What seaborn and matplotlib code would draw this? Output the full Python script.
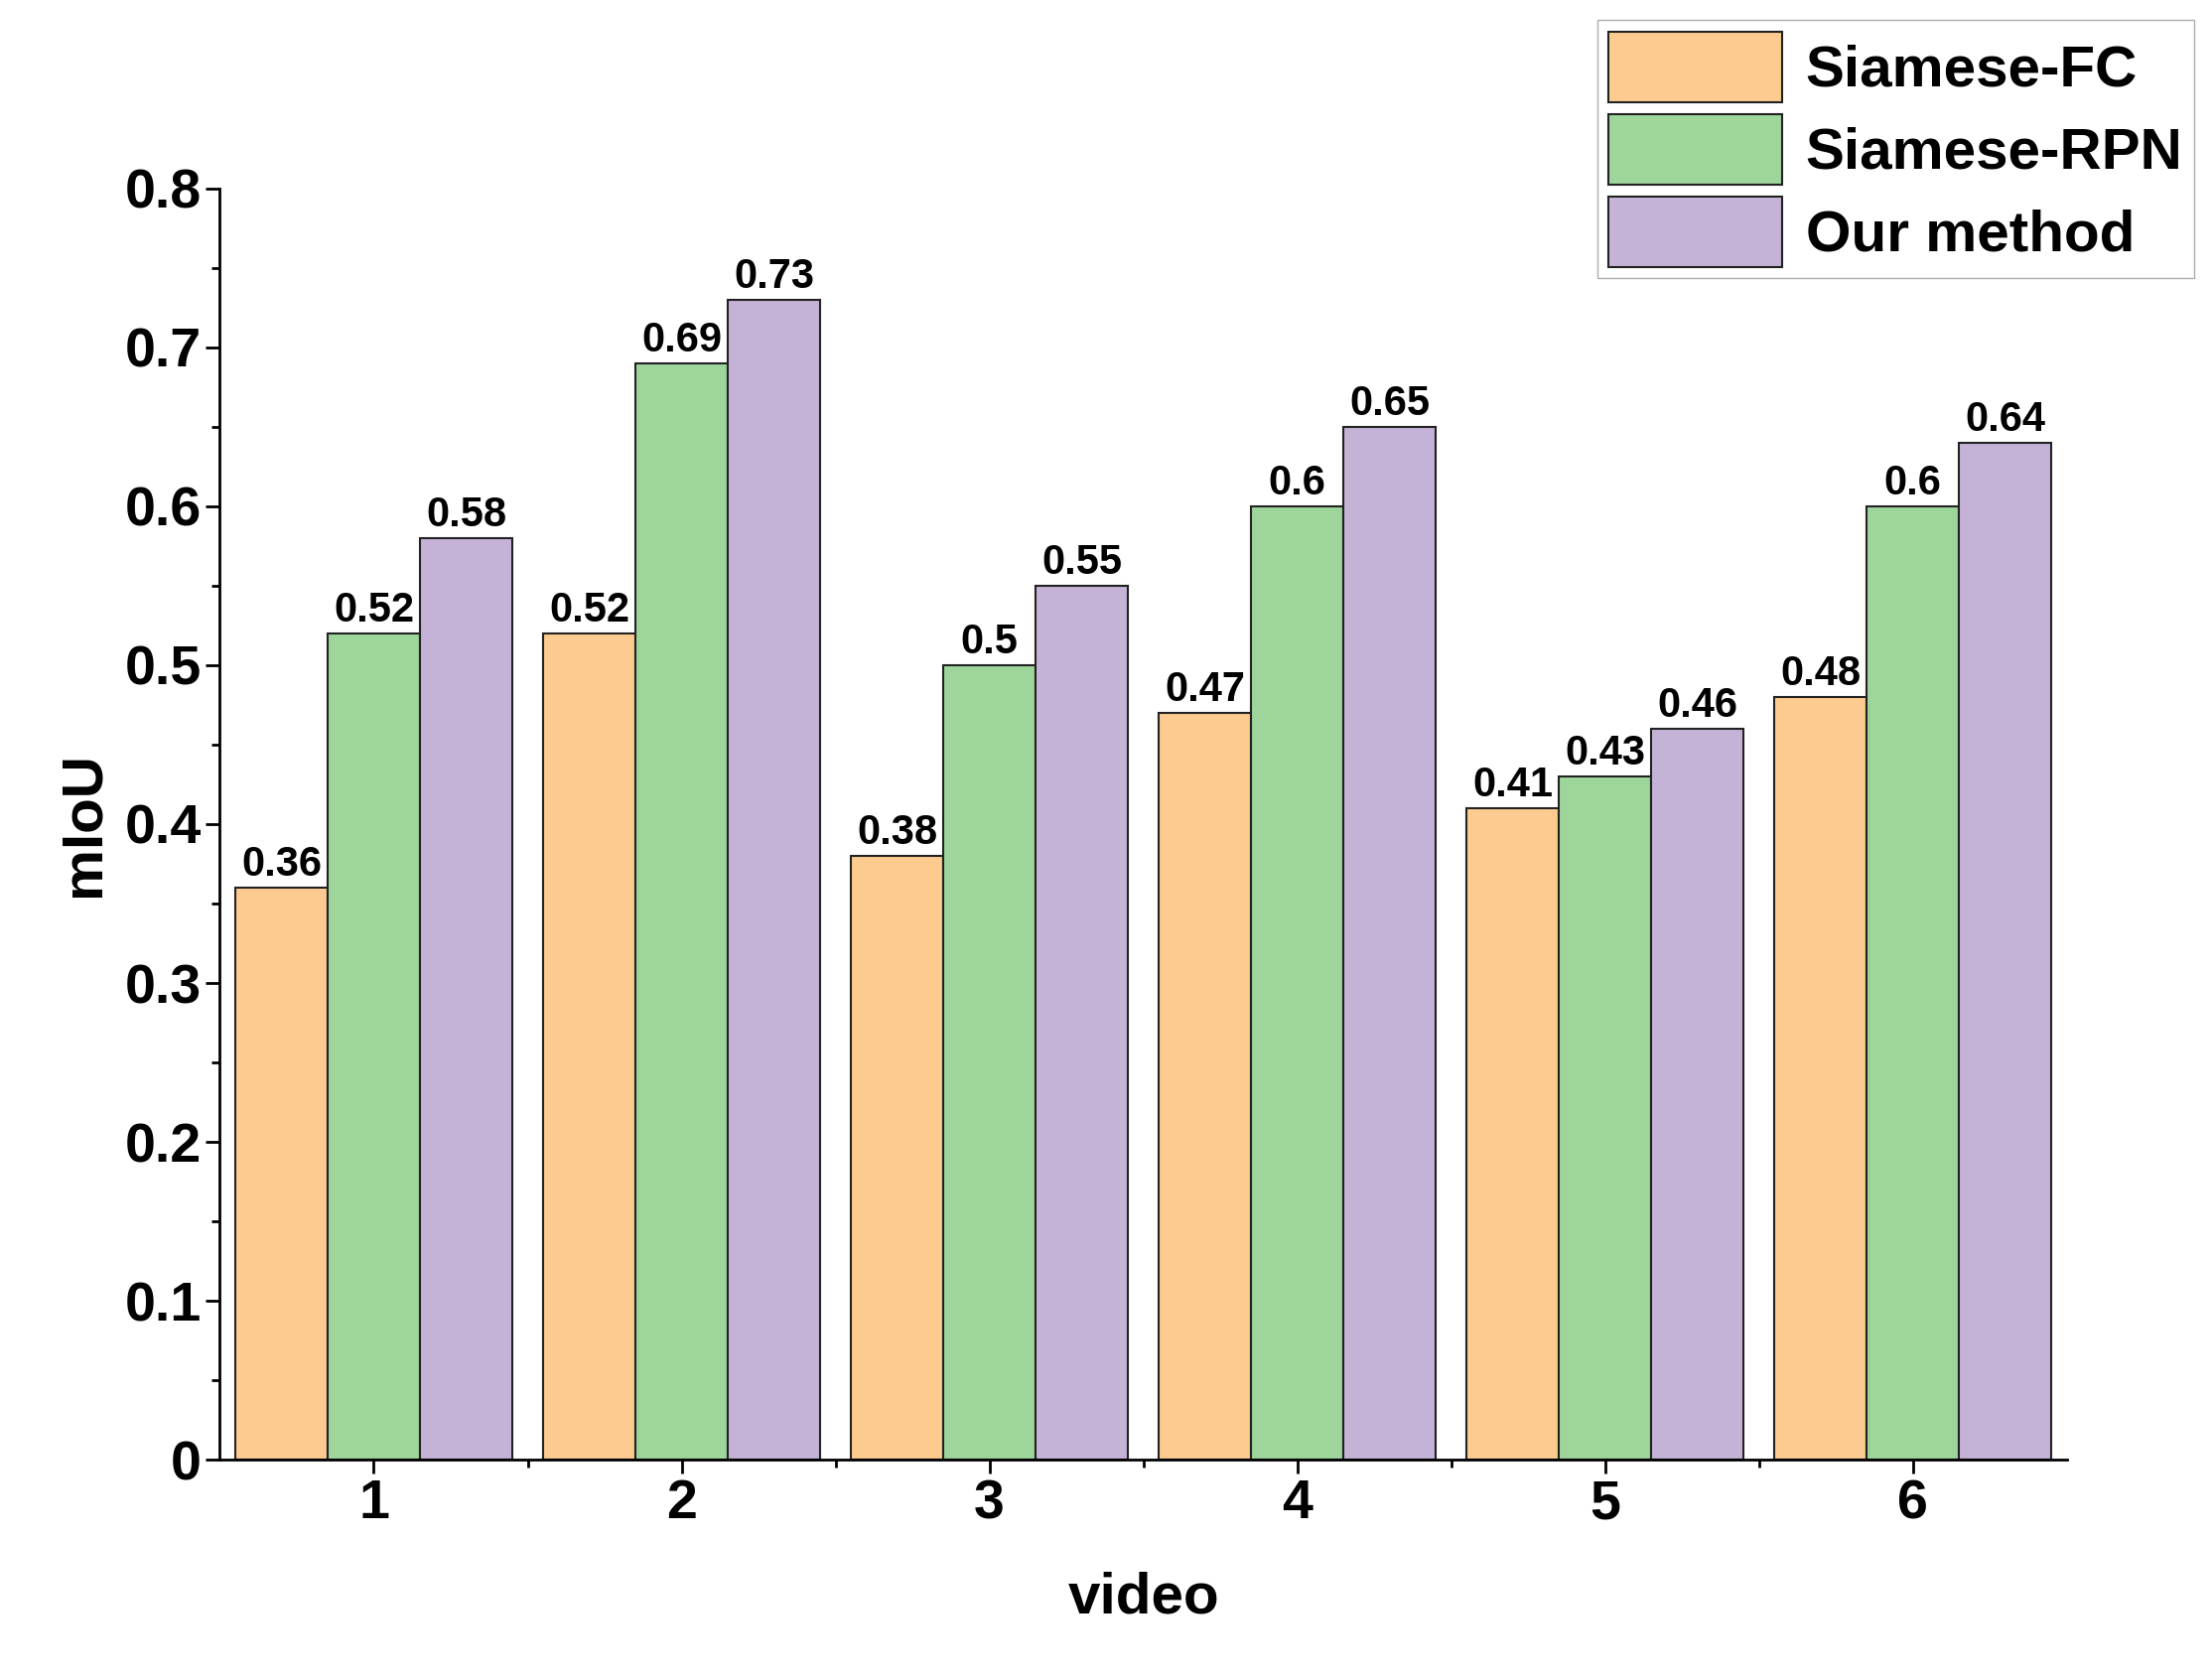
import pandas as pd
import matplotlib.pyplot as plt
import seaborn as sns
from matplotlib.ticker import MultipleLocator

videos = ["1", "2", "3", "4", "5", "6"]
methods = ["Siamese-FC", "Siamese-RPN", "Our method"]
siamese_fc = [0.36, 0.52, 0.38, 0.47, 0.41, 0.48]
siamese_rpn = [0.52, 0.69, 0.50, 0.60, 0.43, 0.60]
our_method = [0.58, 0.73, 0.55, 0.65, 0.46, 0.64]
colors = ["#FDCB8F", "#9DD59B", "#C5B3D7"]

rows = []
for name, vals in zip(methods, [siamese_fc, siamese_rpn, our_method]):
    for v, val in zip(videos, vals):
        rows.append({"video": v, "method": name, "mIoU": val})
df = pd.DataFrame(rows)

sns.set_theme(style="ticks")
plt.rcParams["font.family"] = ["Liberation Sans", "DejaVu Sans"]
plt.rcParams["font.weight"] = "bold"
plt.rcParams.update({"text.color": "black", "axes.labelcolor": "black",
                     "xtick.color": "black", "ytick.color": "black",
                     "axes.edgecolor": "black"})

fig = plt.figure(figsize=(22.28, 16.92), dpi=100)
ax = fig.add_axes([0.0994, 0.131, 0.835, 0.757])
sns.barplot(data=df, x="video", y="mIoU", hue="method", palette=colors,
            width=0.9, edgecolor="#222222", linewidth=1.5, ax=ax, saturation=1)

for c in ax.containers:
    ax.bar_label(c, labels=[f"{v:g}" for v in c.datavalues], fontsize=30,
                 fontweight="bold", padding=2, color="black")

ax.set_ylim(0, 0.8)
ax.set_xlim(-0.5, 5.5)
ax.yaxis.set_major_locator(MultipleLocator(0.1))
ax.yaxis.set_minor_locator(MultipleLocator(0.05))
ax.set_xticks([0.5, 1.5, 2.5, 3.5, 4.5], minor=True)
ax.tick_params(axis="both", which="major", labelsize=40, width=2, length=10)
ax.tick_params(axis="both", which="minor", width=2, length=6)
for lab in ax.get_xticklabels() + ax.get_yticklabels():
    lab.set_fontweight("bold")
ax.set_yticklabels([f"{t:g}" for t in ax.get_yticks()])
ax.set_xlabel("video", fontsize=42, fontweight="bold", labelpad=30)
ax.set_ylabel("mIoU", fontsize=42, fontweight="bold", labelpad=10)
for s in ["top", "right"]:
    ax.spines[s].set_visible(False)
for s in ["left", "bottom"]:
    ax.spines[s].set_linewidth(2)

ax.legend(loc="upper right", bbox_to_anchor=(0.992, 0.988),
          bbox_transform=fig.transFigure, frameon=True,
          fancybox=False, edgecolor="#999999", handlelength=3.0,
          handleheight=1.5, handletextpad=0.4, borderpad=0.2,
          labelspacing=0.2, borderaxespad=0,
          prop={"weight": "bold", "size": 42})

fig.savefig("out.png", dpi=100)
